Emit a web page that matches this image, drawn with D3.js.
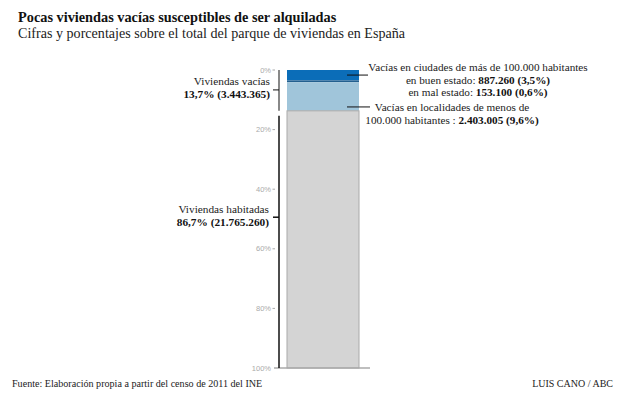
<!DOCTYPE html>
<html>
<head>
<meta charset="utf-8">
<script src="https://cdn.jsdelivr.net/npm/d3@7"></script>
<style>
  body { margin: 0; background: #fff; }
  svg { display: block; font-family: "Liberation Serif", "DejaVu Serif", serif; }
</style>
</head>
<body>
<script>
// segments of the bar, in percent of the total housing stock
const segments = ["buen estado", "mal estado", "localidades", "habitadas"];
const shares = [3.5, 0.6, 9.6, 86.3];
const colors = ["#0b6db8", "#235f8e", "#a0c5da", "#d4d4d4"];
const ticks = [0, 20, 40, 60, 80, 100];

const width = 620, height = 393;
const y = d3.scaleLinear().domain([0, 100]).range([70, 368]);
const x = d3.scaleBand().domain(["total"]).range([287, 359]).padding(0);

const svg = d3.select("body").append("svg")
    .attr("width", width)
    .attr("height", height);

// title
svg.append("text").attr("x", 18).attr("y", 22)
    .attr("font-size", 14.3).attr("font-weight", "bold").attr("fill", "#111")
    .text("Pocas viviendas vacías susceptibles de ser alquiladas");
svg.append("text").attr("x", 18).attr("y", 38)
    .attr("font-size", 14.1).attr("fill", "#222")
    .text("Cifras y porcentajes sobre el total del parque de viviendas en España");

// stacked bar
let acc = 0;
const stack = shares.map((v, i) => {
  const d = {key: segments[i], y0: acc, y1: acc + v, color: colors[i]};
  acc += v;
  return d;
});

svg.append("g").selectAll("rect")
  .data(stack)
  .join("rect")
    .attr("x", x("total"))
    .attr("width", x.bandwidth())
    .attr("y", d => y(d.y0))
    .attr("height", d => y(d.y1) - y(d.y0))
    .attr("fill", d => d.color)
    .attr("stroke", d => d.key == "habitadas" ? "#aaa" : "none")
    .attr("stroke-width", 1);

// baseline
svg.append("line")
    .attr("x1", 274).attr("x2", 370)
    .attr("y1", y(100)).attr("y2", y(100))
    .attr("stroke", "#aaa").attr("stroke-width", 1.5);

// axis labels
const axis = svg.append("g").attr("font-family", "Liberation Sans, sans-serif");
axis.selectAll("text")
  .data(ticks)
  .join("text")
    .attr("x", 271)
    .attr("y", d => y(d) + 2.5)
    .attr("text-anchor", "end")
    .attr("font-size", 7.5)
    .attr("fill", "#aaa")
    .text(d => d + "%");
axis.selectAll("line")
  .data(ticks.slice(0, -1))
  .join("line")
    .attr("x1", 272.5).attr("x2", 275)
    .attr("y1", d => y(d)).attr("y2", d => y(d))
    .attr("stroke", "#aaa");

// brackets on the left
const vacias = 13.7;
svg.append("line")
    .attr("x1", 279).attr("x2", 279)
    .attr("y1", y(0)).attr("y2", y(vacias))
    .attr("stroke", "#888").attr("stroke-width", 2);
svg.append("line")
    .attr("x1", 273).attr("x2", 279)
    .attr("y1", y(vacias / 2) - 0.5).attr("y2", y(vacias / 2) - 0.5)
    .attr("stroke", "#111").attr("stroke-width", 1);

svg.append("line")
    .attr("x1", 279).attr("x2", 279)
    .attr("y1", y(vacias) + 5).attr("y2", y(100))
    .attr("stroke", "#111").attr("stroke-width", 1.5);
svg.append("line")
    .attr("x1", 273).attr("x2", 279)
    .attr("y1", y(49.4)).attr("y2", y(49.4))
    .attr("stroke", "#111").attr("stroke-width", 1.5);

function label(lines, xPos, yPos, anchor, size) {
  const t = svg.append("text")
      .attr("x", xPos).attr("y", yPos)
      .attr("text-anchor", anchor)
      .attr("font-size", size)
      .attr("fill", "#222");
  lines.forEach((l, i) => {
    const ts = t.append("tspan").attr("x", xPos).attr("dy", i ? 12.5 : 0);
    ts.append("tspan").text(l[0]);
    if (l[1]) ts.append("tspan").attr("font-weight", "bold").attr("fill", "#111").text(l[1]);
  });
}

label([["Viviendas vacías"], ["", "13,7% (3.443.365)"]], 270, 85, "end", 11.3);
label([["Viviendas habitadas"], ["", "86,7% (21.765.260)"]], 269, 213, "end", 11.3);

// callouts on the right
svg.append("line")
    .attr("x1", 347).attr("x2", 368)
    .attr("y1", y(1.7)).attr("y2", y(1.7))
    .attr("stroke", "#111");
svg.append("line")
    .attr("x1", 347).attr("x2", 370)
    .attr("y1", y(12.4)).attr("y2", y(12.4))
    .attr("stroke", "#111");

label([
  ["Vacías en ciudades de más de 100.000 habitantes"],
  ["en buen estado: ", "887.260 (3,5%)"],
  ["en mal estado: ", "153.100 (0,6%)"]
], 478, 71, "middle", 11.2);
label([
  ["Vacías en localidades de menos de"],
  ["100.000 habitantes : ", "2.403.005 (9,6%)"]
], 452, 111, "middle", 11.2);

// footer
svg.append("text").attr("x", 12).attr("y", 387)
    .attr("font-size", 10.1).attr("fill", "#222")
    .text("Fuente: Elaboración propia a partir del censo de 2011 del INE");
svg.append("text").attr("x", 613).attr("y", 387)
    .attr("text-anchor", "end")
    .attr("font-size", 10).attr("fill", "#222")
    .text("LUIS CANO / ABC");
</script>
</body>
</html>
